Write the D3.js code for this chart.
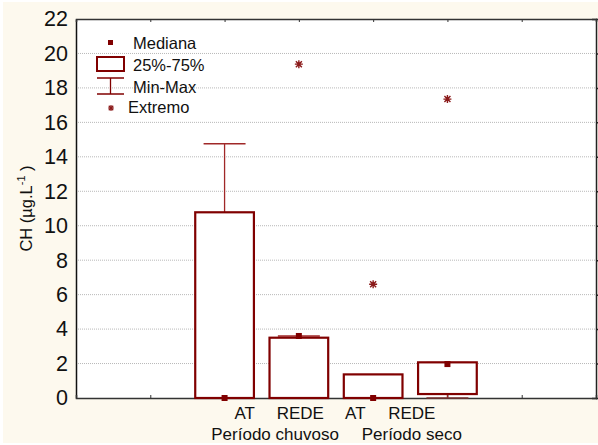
<!DOCTYPE html>
<html><head><meta charset="utf-8">
<script src="https://cdn.jsdelivr.net/npm/d3@7"></script>
<style>
html,body{margin:0;padding:0;background:#fff;}
svg{display:block;font-family:"Liberation Sans",Arial,sans-serif;}
</style></head>
<body>
<script>
// ---- data ----
const groups = ["AT", "REDE", "AT", "REDE"];
const periods = ["Período chuvoso", "Período seco"];
const slot = [2, 3, 4, 5];            // category slot on the x scale (slots 0..7)
const q1 = [0, 0, 0, 0.23];
const q3 = [10.78, 3.5, 1.37, 2.07];
const median = [0, 3.6, 0, 1.97];
const minV = [0, 0, 0, 0];
const maxV = [14.76, 3.6, 1.37, 2.07];
const extremes = [[], [19.38], [6.6], [17.35]];
const yTicks = [0, 2, 4, 6, 8, 10, 12, 14, 16, 18, 20, 22];
const legendLabels = ["Mediana", "25%-75%", "Min-Max", "Extremo"];
// label placement in slot units
const groupLabelPos = [2.27, 3.02, 3.76, 4.52];
const periodLabelPos = [2.68, 4.52];

const W = 598, H = 445;
const M = {l: 76, r: 596, t: 19, b: 398};
const red = "#800000";

const svg = d3.select("body").append("svg").attr("width", W).attr("height", H);
svg.append("rect").attr("x", 3).attr("y", 2).attr("width", W - 3).attr("height", 441).attr("fill", "#fdf9ee");
svg.append("rect").attr("x", M.l).attr("y", M.t).attr("width", M.r - M.l).attr("height", M.b - M.t).attr("fill", "#fff");

const x = d3.scaleLinear().domain([0, 7]).range([M.l, M.r]);
const y = d3.scaleLinear().domain([0, 22]).range([M.b, M.t]);

// grid
svg.append("g").selectAll("line").data(yTicks.filter(d => d > 0 && d < 22)).join("line")
  .attr("x1", M.l).attr("x2", M.r).attr("y1", d => y(d)).attr("y2", d => y(d))
  .attr("stroke", "#b8b8b8").attr("stroke-width", 1).attr("stroke-dasharray", "1,1");

// axes
const axL = svg.append("g").attr("transform", `translate(${M.l},0)`)
  .call(d3.axisLeft(y).tickValues(yTicks).tickSize(0).tickPadding(8).tickFormat(d3.format("d")));
axL.select(".domain").attr("stroke", "#111").attr("stroke-width", 1.5);
axL.selectAll("text").attr("font-size", 21.5).attr("fill", "#111")
  .attr("font-family", "'Liberation Sans',Arial,sans-serif");

const axR = svg.append("g").attr("transform", `translate(${M.r},0)`)
  .call(d3.axisLeft(y).tickValues(yTicks).tickSize(4).tickFormat(""));
axR.select(".domain").attr("stroke", "#222").attr("stroke-width", 1.5);
axR.selectAll(".tick line").attr("stroke", "#222").attr("stroke-width", 1.5).attr("transform", "translate(4,0)").attr("x2", -4);

const xt = d3.range(1, 7);
const axT = svg.append("g").attr("transform", `translate(0,${M.t})`)
  .call(d3.axisBottom(x).tickValues(xt).tickSize(3).tickFormat(""));
axT.select(".domain").attr("stroke", "#333").attr("stroke-width", 1.5);
axT.selectAll(".tick line").attr("stroke", "#333");

const axB = svg.append("g").attr("transform", `translate(0,${M.b})`)
  .call(d3.axisTop(x).tickValues(xt).tickSize(3).tickFormat(""));
axB.select(".domain").attr("stroke", "#333").attr("stroke-width", 1.5);
axB.selectAll(".tick line").attr("stroke", "#333");

// boxes
const bw = 0.79, cw = 0.565;
const data = groups.map((g, i) => ({i, s: slot[i], q1: q1[i], q3: q3[i], med: median[i], mn: minV[i], mx: maxV[i], ex: extremes[i]}));
const gB = svg.append("g");
data.forEach(d => {
  const cx = x(d.s);
  const half = (x(bw) - x(0)) / 2, ch = (x(cw) - x(0)) / 2;
  if (d.mx > d.q3) {
    gB.append("line").attr("x1", cx).attr("x2", cx).attr("y1", y(d.q3)).attr("y2", y(d.mx)).attr("stroke", "#a02828").attr("stroke-width", 1.3);
    gB.append("line").attr("x1", cx - ch).attr("x2", cx + ch).attr("y1", y(d.mx)).attr("y2", y(d.mx)).attr("stroke", "#a02828").attr("stroke-width", 1.5);
  } else {
    gB.append("line").attr("x1", cx - ch).attr("x2", cx + ch).attr("y1", y(d.mx)).attr("y2", y(d.mx)).attr("stroke", "#c08080").attr("stroke-width", 1);
  }
  if (d.mn < d.q1) {
    gB.append("line").attr("x1", cx).attr("x2", cx).attr("y1", y(d.q1)).attr("y2", y(d.mn)).attr("stroke", "#a02828").attr("stroke-width", 1.3);
    gB.append("line").attr("x1", cx - ch).attr("x2", cx + ch).attr("y1", y(d.mn)).attr("y2", y(d.mn)).attr("stroke", "#7a3030").attr("stroke-width", 1.5);
  }
  gB.append("rect").attr("x", cx - half).attr("width", 2 * half)
    .attr("y", y(d.q3)).attr("height", Math.max(0, y(d.q1) - y(d.q3)))
    .attr("fill", "#fff").attr("stroke", red).attr("stroke-width", 2.2);
  gB.append("rect").attr("x", cx - 3).attr("y", y(d.med) - 3).attr("width", 6).attr("height", 6).attr("fill", red);
  d.ex.forEach(v => drawStar(gB, cx, y(v)));
});

function drawStar(g, cx, cy) {
  const r = 4;
  const p = `M${cx - r},${cy}L${cx + r},${cy}M${cx},${cy - r}L${cx},${cy + r}M${cx - r * 0.75},${cy - r * 0.75}L${cx + r * 0.75},${cy + r * 0.75}M${cx - r * 0.75},${cy + r * 0.75}L${cx + r * 0.75},${cy - r * 0.75}`;
  g.append("path").attr("d", p).attr("stroke", "#8b1a1a").attr("stroke-width", 1.4).attr("fill", "none");
}

// x labels
svg.append("g").selectAll("text").data(groups).join("text")
  .attr("x", (d, i) => x(groupLabelPos[i])).attr("y", 419).attr("text-anchor", "middle")
  .attr("font-size", 17).attr("fill", "#111").text(d => d);
svg.append("g").selectAll("text").data(periods).join("text")
  .attr("x", (d, i) => x(periodLabelPos[i])).attr("y", 440).attr("text-anchor", "middle")
  .attr("font-size", 17).attr("fill", "#111").text(d => d);

// y title
const yt = svg.append("text").attr("transform", `translate(32,${(M.t + M.b) / 2}) rotate(-90)`)
  .attr("text-anchor", "middle").attr("font-size", 16.5).attr("fill", "#111");
yt.append("tspan").text("CH (µg.L");
yt.append("tspan").attr("dy", -7).attr("font-size", 11).text("-1");
yt.append("tspan").attr("dy", 7).text("  )");

// legend
const lg = svg.append("g");
lg.append("rect").attr("x", 108).attr("y", 40).attr("width", 5).attr("height", 5).attr("fill", red);
lg.append("rect").attr("x", 97).attr("y", 57).attr("width", 27).attr("height", 14).attr("fill", "#fff").attr("stroke", red).attr("stroke-width", 2);
lg.append("line").attr("x1", 97).attr("x2", 124).attr("y1", 78).attr("y2", 78).attr("stroke", red).attr("stroke-width", 1.5);
lg.append("line").attr("x1", 97).attr("x2", 124).attr("y1", 94).attr("y2", 94).attr("stroke", red).attr("stroke-width", 1.5);
lg.append("line").attr("x1", 110.5).attr("x2", 110.5).attr("y1", 78).attr("y2", 94).attr("stroke", red).attr("stroke-width", 1.3);
(function(){ const cx = 111, cy = 108, r = 3;
  lg.append("path").attr("d", `M${cx - r},${cy}L${cx + r},${cy}M${cx},${cy - r}L${cx},${cy + r}M${cx - r * .75},${cy - r * .75}L${cx + r * .75},${cy + r * .75}M${cx - r * .75},${cy + r * .75}L${cx + r * .75},${cy - r * .75}`)
    .attr("stroke", "#8b1a1a").attr("stroke-width", 1.2).attr("fill", "none"); })();
const lx = [133, 133, 133, 128], ly = [49, 71, 93, 113];
lg.selectAll("text").data(legendLabels).join("text")
  .attr("x", (d, i) => lx[i]).attr("y", (d, i) => ly[i]).attr("font-size", 16.5).attr("fill", "#111").text(d => d);
</script>
</body></html>
